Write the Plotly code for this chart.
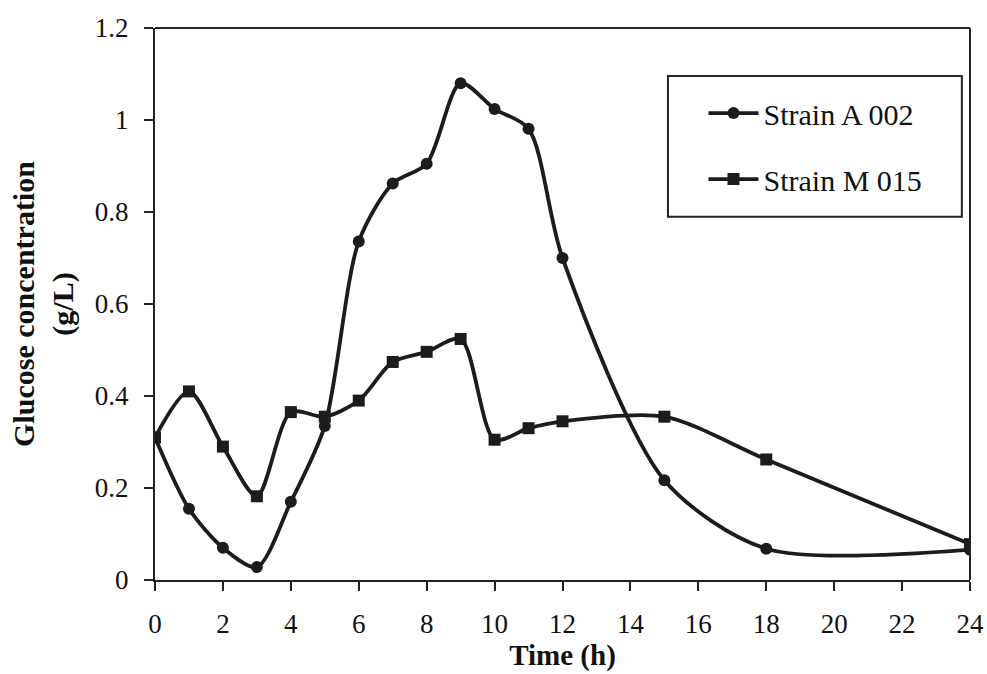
import plotly.graph_objects as go

time_a = [0, 1, 2, 3, 4, 5, 6, 7, 8, 9, 10, 11, 12, 15, 18, 24]
strain_a = [0.31, 0.155, 0.07, 0.028, 0.17, 0.335, 0.736, 0.862, 0.905, 1.08, 1.024, 0.981, 0.70, 0.217, 0.068, 0.066]
time_m = [0, 1, 2, 3, 4, 5, 6, 7, 8, 9, 10, 11, 12, 15, 18, 24]
strain_m = [0.31, 0.41, 0.29, 0.182, 0.365, 0.355, 0.39, 0.474, 0.496, 0.524, 0.305, 0.33, 0.345, 0.355, 0.262, 0.078]

x_ticks = list(range(0, 25, 2))
y_ticks = [0, 0.2, 0.4, 0.6, 0.8, 1, 1.2]
y_tick_text = ["0", "0.2", "0.4", "0.6", "0.8", "1", "1.2"]

col = "#1c1c1c"
fig = go.Figure()
fig.add_trace(go.Scatter(
    x=time_a, y=strain_a, name="Strain A 002", mode="lines+markers",
    line=dict(color=col, width=3.8, shape="spline", smoothing=0.8),
    marker=dict(symbol="circle", size=12, color=col),
    legendgroup="a"))
fig.add_trace(go.Scatter(
    x=time_m, y=strain_m, name="Strain M 015", mode="lines+markers",
    line=dict(color=col, width=3.8, shape="spline", smoothing=0.8),
    marker=dict(symbol="square", size=12, color=col),
    legendgroup="m"))

font_family = "Liberation Serif"
fig.update_layout(
    width=987, height=674,
    margin=dict(l=155, r=17, t=28, b=94, autoexpand=False),
    paper_bgcolor="white", plot_bgcolor="white",
    font=dict(family=font_family, color="#111"),
    showlegend=True,
    legend=dict(
        x=0.673, y=0.893, xanchor="left", yanchor="top",
        borderwidth=0, bgcolor="rgba(0,0,0,0)",
        font=dict(family=font_family, size=30, color="#111"),
        tracegroupgap=24, traceorder="grouped", itemwidth=50,
    ),
    xaxis=dict(
        range=[0, 24], tickvals=x_ticks, ticks="outside", ticklen=9, tickwidth=2,
        tickcolor="#222", showline=True, linecolor="#222", linewidth=2,
        mirror=False, showgrid=False, zeroline=False, automargin=False,
        tickfont=dict(family=font_family, size=27, color="#111"),
        ticklabelstandoff=10,
        title=dict(text="<b>Time (h)</b>", font=dict(family=font_family, size=29, color="#111"), standoff=2),
    ),
    yaxis=dict(
        range=[0, 1.2], tickvals=y_ticks, ticktext=y_tick_text, ticks="outside", ticklen=9, tickwidth=2,
        tickcolor="#222", showline=True, linecolor="#222", linewidth=2,
        showgrid=False, zeroline=False, automargin=False,
        tickfont=dict(family=font_family, size=27, color="#111"),
        ticklabelstandoff=10,
        title=dict(text="<b>Glucose concentration<br>(g/L)</b>", font=dict(family=font_family, size=30, color="#111"), standoff=12),
    ),
)
# top and right frame lines
fig.add_shape(type="line", xref="paper", yref="paper", x0=0, x1=1, y0=1, y1=1, line=dict(color="#222", width=2))
fig.add_shape(type="line", xref="paper", yref="paper", x0=1, x1=1, y0=0, y1=1, line=dict(color="#222", width=2))
# legend frame
fig.add_shape(type="rect", xref="paper", yref="paper", x0=0.6294, x1=0.990, y0=0.658, y1=0.913,
              line=dict(color="#222", width=2), fillcolor="rgba(0,0,0,0)", layer="above")

fig.write_html("out.html")
